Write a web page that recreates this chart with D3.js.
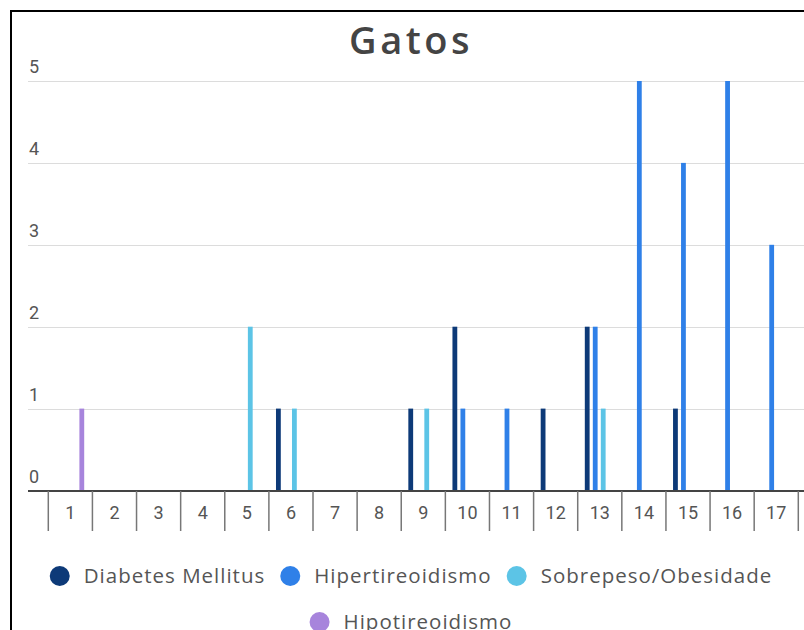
<!DOCTYPE html>
<html>
<head>
<meta charset="utf-8">
<script src="https://cdn.jsdelivr.net/npm/d3@7"></script>
<style>
  body { margin: 0; background: #fff; }
  svg { display: block; }
</style>
</head>
<body>
<svg id="chart" width="804" height="630"></svg>
<script>
const width = 804;
const height = 630;

// data
const categories = ["1","2","3","4","5","6","7","8","9","10","11","12","13","14","15","16","17"];
const seriesNames = ["Diabetes Mellitus", "Hipertireoidismo", "Sobrepeso/Obesidade", "Hipotireoidismo"];
const diabetes      = [0,0,0,0,0,1,0,0,1,2,0,1,2,0,1,0,0];
const hipertireo    = [0,0,0,0,0,0,0,0,0,1,1,0,2,5,4,5,3];
const sobrepeso     = [0,0,0,0,2,1,0,0,1,0,0,0,1,0,0,0,0];
const hipotireo     = [1,0,0,0,0,0,0,0,0,0,0,0,0,0,0,0,0];
const yTicks = [0, 1, 2, 3, 4, 5];
const colors = ["#0d3a78", "#2f80e8", "#5cc4e6", "#a784dc"];

const seriesValues = [diabetes, hipertireo, sobrepeso, hipotireo];

const svg = d3.select("#chart");

// frame around the chart (cut off on right and bottom)
svg.append("path")
  .attr("d", `M11,${height} V11 H${width}`)
  .attr("fill", "none")
  .attr("stroke", "#000")
  .attr("stroke-width", 2);

// title
svg.append("text")
  .attr("x", 411)
  .attr("y", 54)
  .attr("text-anchor", "middle")
  .style("font-family", "'Open Sans', sans-serif")
  .style("font-weight", 600)
  .style("font-size", "38px")
  .style("letter-spacing", "3.5px")
  .attr("fill", "#444")
  .text("Gatos");

// scales
const x0 = d3.scaleBand().domain(categories).range([48.3, 798.3]).padding(0);
const x1 = d3.scaleBand().domain(seriesNames)
  .range([5.5, 37.5]).paddingInner(0.4).paddingOuter(0.2);
const y = d3.scaleLinear().domain([0, 5]).range([490.5, 81]);

// gridlines + y labels
svg.append("g")
  .selectAll("line")
  .data(yTicks)
  .join("line")
  .attr("x1", 28).attr("x2", width)
  .attr("y1", d => Math.round(y(d)) + 0.5)
  .attr("y2", d => Math.round(y(d)) + 0.5)
  .attr("stroke", "#dcdcdc")
  .attr("stroke-width", 1);

svg.append("g")
  .selectAll("text")
  .data(yTicks)
  .join("text")
  .attr("x", 29)
  .attr("y", d => y(d) - 8)
  .style("font-family", "Roboto, sans-serif")
  .style("font-size", "18px")
  .attr("fill", "#555")
  .text(d => d);

// bars
const barData = [];
seriesValues.forEach((vals, si) => {
  vals.forEach((v, ci) => {
    if (v > 0) barData.push({ cat: categories[ci], series: seriesNames[si], value: v, color: colors[si] });
  });
});

svg.append("g")
  .selectAll("rect")
  .data(barData)
  .join("rect")
  .attr("x", d => x0(d.cat) + x1(d.series))
  .attr("width", x1.bandwidth())
  .attr("y", d => y(d.value))
  .attr("height", d => y(0) - y(d.value))
  .attr("fill", d => d.color);

// x axis
svg.append("line")
  .attr("x1", 28).attr("x2", width)
  .attr("y1", 491).attr("y2", 491)
  .attr("stroke", "#444")
  .attr("stroke-width", 2);

const tickPos = categories.map(c => x0(c)).concat([x0(categories[categories.length - 1]) + x0.bandwidth()]);
svg.append("g")
  .selectAll("line")
  .data(tickPos)
  .join("line")
  .attr("x1", d => d).attr("x2", d => d)
  .attr("y1", 491).attr("y2", 531)
  .attr("stroke", "#777")
  .attr("stroke-width", 1.5);

svg.append("g")
  .selectAll("text")
  .data(categories)
  .join("text")
  .attr("x", d => x0(d) + x0.bandwidth() / 2)
  .attr("y", 519)
  .attr("text-anchor", "middle")
  .style("font-family", "Roboto, sans-serif")
  .style("font-size", "18px")
  .attr("fill", "#555")
  .text(d => d);

// legend, centred rows
const legendFont = "'Open Sans', sans-serif";
const legend = svg.append("g");
const items = seriesNames.map((name, i) => {
  const g = legend.append("g");
  g.append("circle").attr("r", 10).attr("cx", 10).attr("cy", 0).attr("fill", colors[i]);
  const t = g.append("text")
    .attr("x", 34).attr("y", 7)
    .style("font-family", legendFont)
    .style("font-size", "20.5px")
    .style("letter-spacing", "1px")
    .attr("fill", "#555")
    .text(name);
  return { g, w: 34 + t.node().getComputedTextLength() };
});

const gap = 15;
const maxRow = 760;
const rows = [[]];
let rowW = 0;
items.forEach(it => {
  const add = rows[rows.length - 1].length ? gap + it.w : it.w;
  if (rowW + add > maxRow && rows[rows.length - 1].length) {
    rows.push([it]);
    rowW = it.w;
  } else {
    rows[rows.length - 1].push(it);
    rowW += add;
  }
});

rows.forEach((row, ri) => {
  const total = d3.sum(row, d => d.w) + gap * (row.length - 1);
  let xPos = 411 - total / 2;
  row.forEach(it => {
    it.g.attr("transform", `translate(${xPos},${576 + ri * 46})`);
    xPos += it.w + gap;
  });
});
</script>
</body>
</html>
